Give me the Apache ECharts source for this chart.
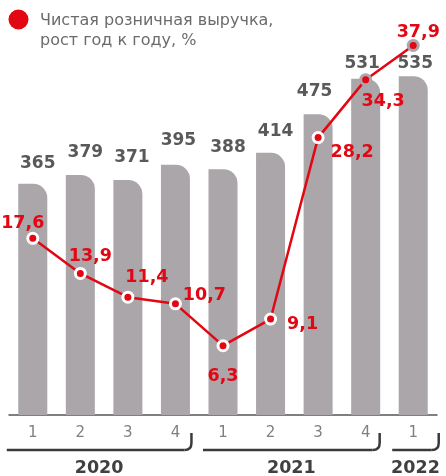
<!DOCTYPE html>
<html><head><meta charset="utf-8">
<script src="https://cdn.jsdelivr.net/npm/echarts@6/dist/echarts.min.js"></script>
<style>html,body{margin:0;padding:0;background:#fff}#c{width:446px;height:476px}</style>
</head><body><div id="c"></div><script>
// ---- data ----
const quarters = ['1','2','3','4','1','2','3','4','1'];
const years = ['2020','2021','2022'];
const yearGroups = [[0,3],[4,7],[8,8]];
const revenue = [365,379,371,395,388,414,475,531,535];
const growth = [17.6,13.9,11.4,10.7,6.3,9.1,28.2,34.3,37.9];
const seriesName = 'Чистая розничная выручка,\nрост год к году, %';

// ---- styles ----
const RED = '#e30613', BAR = '#aaa6aa', FONT = '"DejaVu Sans", Verdana, sans-serif';
const barLabelDist = [11.5,13.5,13.5,15.5,13.5,12.5,14.5,6.5,4.5];
const barLabelDx = [5,5,4,3,5,5,-3.5,-3.5,2];
const lineLabelOff = [[-10,-15],[10,-17],[19,-20],[29,-8],[0,31],[32,5],[34,15],[17.5,22],[5,-13]];
const haloIdx = [7,8];
const fmt = v => v.toFixed(1).replace('.', ',');

const chart = echarts.init(document.getElementById('c'), null, {renderer:'canvas'});
const option = {
  animation: false,
  textStyle: {fontFamily: FONT},
  grid: {left: 9, right: 9, top: 35, bottom: 61, containLabel: false},
  xAxis: {
    type: 'category', data: quarters,
    axisLine: {lineStyle: {color: '#555', width: 1.5}},
    axisTick: {show: false},
    axisLabel: {color: '#808080', fontSize: 15, margin: 11, fontFamily: FONT}
  },
  yAxis: [
    {type: 'value', min: 0, max: 600, show: false},
    {type: 'value', min: -1, max: 39, show: false}
  ],
  series: [
    {
      type: 'bar', yAxisIndex: 0, barWidth: 29,
      data: revenue.map((v, i) => ({
        value: v,
        label: {distance: barLabelDist[i], offset: [barLabelDx[i], 0]}
      })),
      itemStyle: {color: BAR, borderRadius: [0, 14, 0, 0]},
      label: {show: true, position: 'top', color: '#595959', fontWeight: 'bold', fontSize: 17, fontFamily: FONT},
      z: 1
    },
    {
      type: 'line', name: seriesName, yAxisIndex: 1,
      data: growth.map((v, i) => ({
        value: v,
        itemStyle: haloIdx.includes(i) ? {borderColor: '#aaa6aa'} : {},
        label: {offset: lineLabelOff[i]}
      })),
      lineStyle: {color: RED, width: 2.5},
      symbol: 'circle', symbolSize: 10,
      itemStyle: {color: RED, borderColor: '#fff', borderWidth: 3},
      label: {show: true, position: 'inside', color: RED, fontWeight: 'bold', fontSize: 17.5,
              fontFamily: FONT, formatter: p => fmt(p.value)},
      z: 5
    }
  ]
};
chart.setOption(option);

// ---- decorations: legend, year brackets and year labels ----
const px = i => chart.convertToPixel({xAxisIndex: 0}, i);
const bracketOff = [[-26, 16], [-20, 14], [-21, 25.5]];
const BR = {stroke: '#3a3a3a', lineWidth: 2.5, fill: null};
const graphics = [
  {type: 'circle', shape: {cx: 18.5, cy: 19.5, r: 10}, style: {fill: RED}},
  {type: 'text', x: 40, y: 11.5, style: {text: seriesName, font: '16px ' + FONT, fill: '#6b6b6b', lineHeight: 19.5}}
];
yearGroups.forEach((g, k) => {
  const x0 = px(g[0]) + bracketOff[k][0];
  const x1 = px(g[1]) + bracketOff[k][1];
  const y = 450, r = 7;
  graphics.push({type: 'line', shape: {x1: x0, y1: y, x2: x1 - r, y2: y}, style: BR});
  graphics.push({type: 'bezierCurve', shape: {x1: x1 - r, y1: y, x2: x1, y2: y - r, cpx1: x1, cpy1: y}, style: BR});
  graphics.push({type: 'line', shape: {x1: x1, y1: y - r, x2: x1, y2: y - 17}, style: BR});
  graphics.push({
    type: 'text', x: (x0 + x1) / 2, y: 468,
    style: {text: years[k], font: 'bold 17.5px ' + FONT, fill: '#404040', align: 'center', verticalAlign: 'middle'}
  });
});
chart.setOption({graphic: graphics});
</script></body></html>
